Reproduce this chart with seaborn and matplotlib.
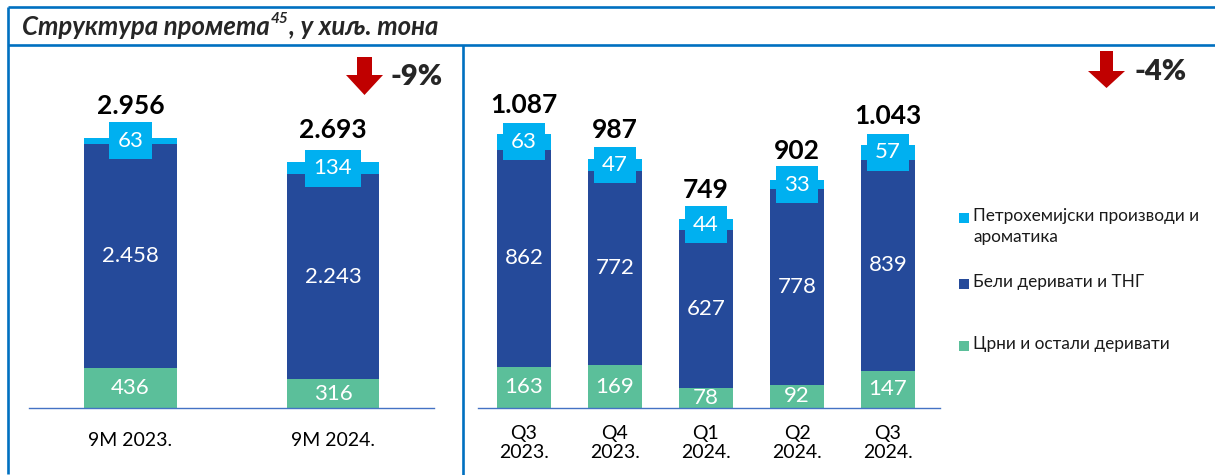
import matplotlib
matplotlib.use("Agg")
import matplotlib.pyplot as plt
import seaborn as sns
import pandas as pd
from matplotlib.patches import Polygon, Rectangle
from matplotlib.lines import Line2D

# ---------------- data ----------------
left_cats = ["9M 2023.", "9M 2024."]
left_green = [436, 316]
left_dark = [2458, 2243]
left_light = [63, 134]
left_totals = [2956, 2693]

right_cats = ["Q3\n2023.", "Q4\n2023.", "Q1\n2024.", "Q2\n2024.", "Q3\n2024."]
right_green = [163, 169, 78, 92, 147]
right_dark = [862, 772, 627, 778, 839]
right_light = [63, 47, 44, 33, 57]
right_totals = [1087, 987, 749, 902, 1043]

series_names = ["Петрохемијски производи и\nароматика",
                "Бели деривати и ТНГ",
                "Црни и остали деривати"]
left_change = "-9%"
right_change = "-4%"
title_main = "Структура промета"
title_sup = "45"
title_rest = ", у хиљ. тона"

C_LIGHT = "#00B0F0"
C_DARK = "#254A9A"
C_GREEN = "#5BBF9A"
C_FRAME = "#0070C0"
C_RED = "#C00000"

sns.set_theme(style="white")
plt.rcParams["font.family"] = ["Lato", "Open Sans", "DejaVu Sans"]

W, H = 1215, 475
fig = plt.figure(figsize=(W / 100, H / 100), dpi=100)


def fx(px):
    return px / W


def fy(py):
    return 1 - py / H


def fmt(v):
    return f"{v:,}".replace(",", ".")


def draw_panel(ax, cats, green, dark, light, totals, width, ylim, tick_pad, total_off):
    df = pd.DataFrame({"cat": cats, "g": green, "d": dark, "l": light})
    df["gd"] = df["g"] + df["d"]
    df["gdl"] = df["gd"] + df["l"]
    common = dict(x="cat", order=cats, width=width, saturation=1,
                  errorbar=None, linewidth=0, ax=ax)
    sns.barplot(data=df, y="gdl", color=C_LIGHT, **common)
    sns.barplot(data=df, y="gd", color=C_DARK, **common)
    sns.barplot(data=df, y="g", color=C_GREEN, **common)
    for i, r in df.iterrows():
        ax.text(i, r["g"] / 2, fmt(r["g"]), ha="center", va="center",
                color="white", fontsize=16)
        ax.text(i, r["g"] + r["d"] / 2, fmt(r["d"]), ha="center", va="center",
                color="white", fontsize=16)
        ax.text(i, r["gd"] + r["l"] / 2, fmt(r["l"]), ha="center", va="center",
                color="white", fontsize=16, zorder=5,
                bbox=dict(boxstyle="square,pad=0.38", fc=C_LIGHT, ec="none"))
        ax.annotate(fmt(totals[i]), xy=(i, r["gdl"]), xytext=(0, total_off),
                    textcoords="offset points", ha="center", va="center",
                    fontsize=19, fontweight="bold", color="black")
    ax.set_ylim(0, ylim)
    ax.set_xlabel("")
    ax.set_ylabel("")
    ax.set_yticks([])
    ax.set_xticklabels(cats, fontsize=14, color="black")
    ax.tick_params(axis="x", length=0, pad=tick_pad)
    for s in ["top", "right", "left"]:
        ax.spines[s].set_visible(False)
    ax.spines["bottom"].set_color("#4472C4")
    ax.spines["bottom"].set_linewidth(1.0)
    ax.patch.set_alpha(0)


# left panel
axL = fig.add_axes([fx(29), 1 - 408 / H, (434 - 29) / W, (408 - 50) / H])
draw_panel(axL, left_cats, left_green, left_dark, left_light, left_totals,
           width=0.457, ylim=358 / 0.0913, tick_pad=17, total_off=23)
axL.set_xlim(-0.501, 1.499)

# right panel
axR = fig.add_axes([fx(478), 1 - 408 / H, (940 - 478) / W, (408 - 50) / H])
draw_panel(axR, right_cats, right_green, right_dark, right_light, right_totals,
           width=0.593, ylim=358 / 0.252, tick_pad=12, total_off=21)
axR.set_xlim(-0.505, 4.571)

# frame lines
lw = 1.9
for (x0, y0, x1, y1) in [(8, 7, W, 7), (8, 45, W, 45), (8, 7, 8, 474), (463, 45, 463, H)]:
    fig.add_artist(Line2D([fx(x0), fx(x1)], [fy(y0), fy(y1)], color=C_FRAME,
                          lw=lw, transform=fig.transFigure, solid_capstyle="butt"))

# title
t1 = fig.text(fx(22), fy(27), title_main, fontsize=18.5, fontweight="bold",
              fontstyle="italic", va="center", ha="left")
t2 = plt.annotate(title_sup, xy=(1, 0.55), xycoords=t1, xytext=(1, 0),
                  textcoords="offset points", fontsize=11,
                  fontweight="bold", fontstyle="italic", va="bottom", ha="left",
                  annotation_clip=False)
t3 = plt.annotate(title_rest, xy=(1, 0), xycoords=(t2, t1), fontsize=18.5,
                  fontweight="bold", fontstyle="italic", va="bottom", ha="left",
                  annotation_clip=False)


# arrows
def arrow(cx, top, head_y, tip, shaft_w, head_w):
    pts = [(cx - shaft_w / 2, top), (cx + shaft_w / 2, top), (cx + shaft_w / 2, head_y),
           (cx + head_w / 2, head_y), (cx, tip), (cx - head_w / 2, head_y),
           (cx - shaft_w / 2, head_y)]
    fig.add_artist(Polygon([(fx(x), fy(y)) for x, y in pts], closed=True,
                           fc=C_RED, ec="none", transform=fig.transFigure))


arrow(364.5, 57, 75, 95, 15, 37)
arrow(1106.5, 51, 71, 88, 13, 37)
fig.text(fx(391), fy(77), left_change, fontsize=21, fontweight="heavy",
         va="center", ha="left")
fig.text(fx(1134), fy(72), right_change, fontsize=21, fontweight="heavy",
         va="center", ha="left")

# legend
leg_colors = [C_LIGHT, C_DARK, C_GREEN]
leg_y = [218, 284, 346]
for name, col, y in zip(series_names, leg_colors, leg_y):
    fig.add_artist(Rectangle((fx(959), fy(y + 5)), 10 / W, 10 / H, fc=col, ec="none",
                             transform=fig.transFigure))
    fig.text(fx(973), fy(y - 10), name, fontsize=12.4, va="top", ha="left",
             linespacing=1.4, color="#1a1a1a")

fig.savefig("out.png", dpi=100)
